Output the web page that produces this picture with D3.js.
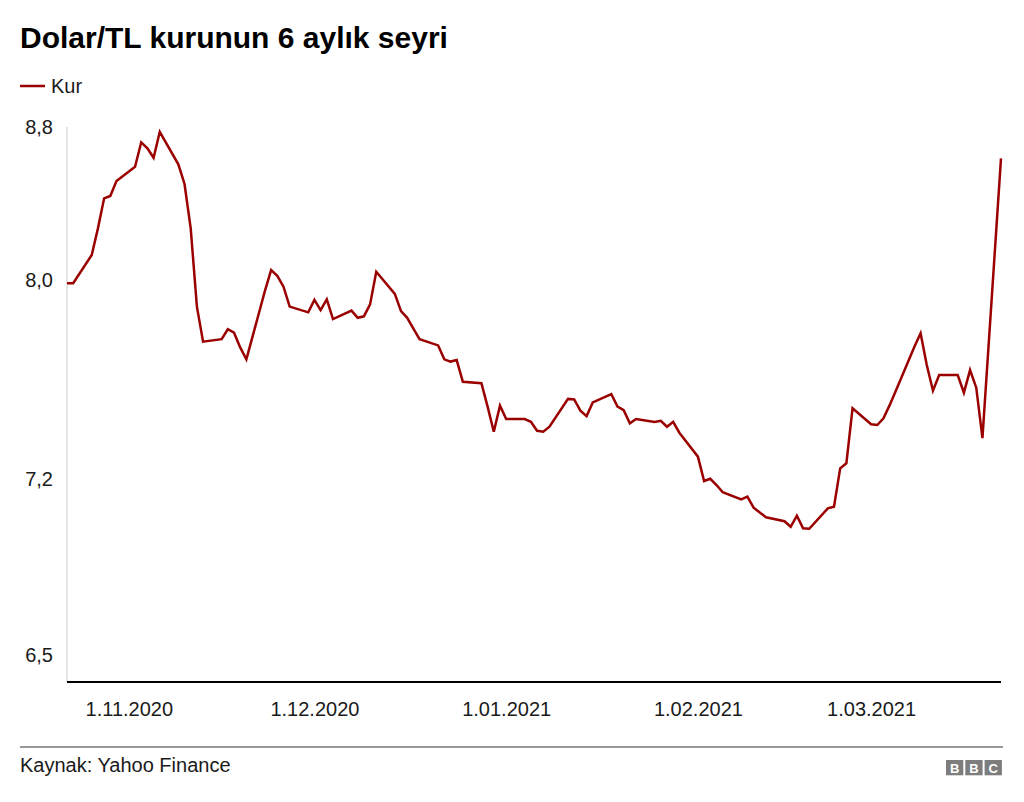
<!DOCTYPE html>
<html>
<head>
<meta charset="utf-8">
<script src="https://cdn.jsdelivr.net/npm/d3@7"></script>
<style>
  html, body { margin: 0; padding: 0; background: #fff; }
  svg { display: block; font-family: "Liberation Sans", Arial, Helvetica, sans-serif; }
</style>
</head>
<body>
<svg id="chart" width="1024" height="802"></svg>
<script>
// ---- data ----
const title = "Dolar/TL kurunun 6 aylık seyri";
const seriesName = "Kur";
const source = "Kaynak: Yahoo Finance";

const dates = [
  "2020-10-22","2020-10-23","2020-10-26","2020-10-27","2020-10-28","2020-10-29","2020-10-30",
  "2020-11-02","2020-11-03","2020-11-04","2020-11-05","2020-11-06",
  "2020-11-09","2020-11-10","2020-11-11","2020-11-12","2020-11-13",
  "2020-11-16","2020-11-17","2020-11-18","2020-11-19","2020-11-20",
  "2020-11-23","2020-11-24","2020-11-25","2020-11-26","2020-11-27",
  "2020-11-30","2020-12-01","2020-12-02","2020-12-03","2020-12-04",
  "2020-12-07","2020-12-08","2020-12-09","2020-12-10","2020-12-11",
  "2020-12-14","2020-12-15","2020-12-16","2020-12-17","2020-12-18",
  "2020-12-21","2020-12-22","2020-12-23","2020-12-24","2020-12-25",
  "2020-12-28","2020-12-29","2020-12-30","2020-12-31","2021-01-01",
  "2021-01-04","2021-01-05","2021-01-06","2021-01-07","2021-01-08",
  "2021-01-11","2021-01-12","2021-01-13","2021-01-14","2021-01-15",
  "2021-01-18","2021-01-19","2021-01-20","2021-01-21","2021-01-22",
  "2021-01-25","2021-01-26","2021-01-27","2021-01-28","2021-01-29",
  "2021-02-01","2021-02-02","2021-02-03","2021-02-04","2021-02-05",
  "2021-02-08","2021-02-09","2021-02-10","2021-02-11","2021-02-12",
  "2021-02-15","2021-02-16","2021-02-17","2021-02-18","2021-02-19",
  "2021-02-22","2021-02-23","2021-02-24","2021-02-25","2021-02-26",
  "2021-03-01","2021-03-02","2021-03-03","2021-03-04","2021-03-05",
  "2021-03-08","2021-03-09","2021-03-10","2021-03-11","2021-03-12",
  "2021-03-15","2021-03-16","2021-03-17","2021-03-18","2021-03-19",
  "2021-03-22"
];

const kur = [
  7.987, 7.987, 8.131, 8.270, 8.427, 8.439, 8.518,
  8.592, 8.720, 8.689, 8.639, 8.775,
  8.605, 8.502, 8.270, 7.893, 7.752,
  7.762, 7.802, 7.788, 7.729, 7.681,
  7.956, 8.052, 8.022, 7.973, 7.893,
  7.870, 7.920, 7.879, 7.922, 7.843,
  7.877, 7.848, 7.854, 7.902, 8.043,
  7.944, 7.875, 7.848, 7.805, 7.762,
  7.737, 7.681, 7.672, 7.678, 7.591,
  7.585, 7.491, 7.390, 7.495, 7.441,
  7.441, 7.430, 7.394, 7.390, 7.410,
  7.522, 7.520, 7.475, 7.453, 7.508,
  7.541, 7.491, 7.477, 7.424, 7.441,
  7.429, 7.434, 7.410, 7.430, 7.386,
  7.290, 7.192, 7.201, 7.176, 7.148,
  7.119, 7.130, 7.086, 7.067, 7.048,
  7.032, 7.010, 7.054, 7.004, 7.002,
  7.083, 7.090, 7.243, 7.263, 7.484,
  7.420, 7.417, 7.444, 7.497, 7.555,
  7.732, 7.786, 7.658, 7.555, 7.618,
  7.618, 7.547, 7.638, 7.567, 7.364,
  8.636
];

const yTicks = [6.5, 7.2, 8.0, 8.8];
const xTicks = ["2020-11-01","2020-12-01","2021-01-01","2021-02-01","2021-03-01"];

// ---- layout ----
const W = 1024, H = 802;
const plot = { left: 67, right: 1001, top: 127, bottom: 682 };
const lineColor = "#9b0000";
const textColor = "#1a1a1a";

const parse = d3.timeParse("%Y-%m-%d");
const data = dates.map((d, i) => ({ date: parse(d), value: kur[i] }));

const svg = d3.select("#chart");

const x = d3.scaleTime()
  .domain(d3.extent(data, d => d.date))
  .range([plot.left, plot.right]);

// the original chart's value axis is not evenly spaced; a polylinear scale reproduces it
const y = d3.scaleLinear()
  .domain(yTicks)
  .range([655, 479, 280, 127]);

// title
svg.append("text")
  .attr("x", 20).attr("y", 48)
  .attr("font-size", 30).attr("font-weight", "bold")
  .attr("fill", "#000")
  .text(title);

// legend
svg.append("line")
  .attr("x1", 20).attr("x2", 45).attr("y1", 86).attr("y2", 86)
  .attr("stroke", lineColor).attr("stroke-width", 2.5);
svg.append("text")
  .attr("x", 51).attr("y", 92.5)
  .attr("font-size", 20).attr("fill", textColor)
  .text(seriesName);

// y axis
const fmtY = v => d3.format(".1f")(v).replace(".", ",");
const yAxis = svg.append("g")
  .attr("transform", `translate(${plot.left},0)`)
  .call(d3.axisLeft(y).tickValues(yTicks).tickFormat(fmtY).tickSize(0).tickPadding(14));
yAxis.select(".domain").remove();
yAxis.selectAll("text")
  .attr("font-size", 20).attr("fill", textColor)
  .attr("font-family", "Liberation Sans, Arial, sans-serif");

svg.append("line")
  .attr("x1", plot.left).attr("x2", plot.left)
  .attr("y1", y(8.8)).attr("y2", plot.bottom)
  .attr("stroke", "#cccccc").attr("stroke-width", 1);

// x axis
const fmtX = d3.timeFormat("%-d.%m.%Y");
const xAxis = svg.append("g")
  .attr("transform", `translate(0,${plot.bottom})`)
  .call(d3.axisBottom(x).tickValues(xTicks.map(parse)).tickFormat(fmtX).tickSize(0).tickPadding(20));
xAxis.select(".domain").remove();
xAxis.selectAll("text")
  .attr("font-size", 20).attr("fill", textColor)
  .attr("font-family", "Liberation Sans, Arial, sans-serif");

svg.append("line")
  .attr("x1", plot.left).attr("x2", plot.right)
  .attr("y1", plot.bottom).attr("y2", plot.bottom)
  .attr("stroke", "#000").attr("stroke-width", 2);

// line
const line = d3.line()
  .x(d => x(d.date))
  .y(d => y(d.value));
svg.append("path")
  .datum(data)
  .attr("d", line)
  .attr("fill", "none")
  .attr("stroke", lineColor)
  .attr("stroke-width", 2.5)
  .attr("stroke-linejoin", "miter");

// footer
svg.append("line")
  .attr("x1", 20).attr("x2", 1003).attr("y1", 747).attr("y2", 747)
  .attr("stroke", "#333").attr("stroke-width", 1);
svg.append("text")
  .attr("x", 20).attr("y", 772)
  .attr("font-size", 20).attr("fill", textColor)
  .text(source);

// BBC blocks
const logo = svg.append("g");
["B","B","C"].forEach((ch, i) => {
  const bx = 946 + i * 19.3;
  logo.append("rect")
    .attr("x", bx).attr("y", 760).attr("width", 17.3).attr("height", 15.3)
    .attr("fill", "#7d7d7d");
  logo.append("text")
    .attr("x", bx + 8.65).attr("y", 772.5)
    .attr("text-anchor", "middle")
    .attr("font-size", 13).attr("font-weight", "bold")
    .attr("fill", "#fff")
    .text(ch);
});
</script>
</body>
</html>
